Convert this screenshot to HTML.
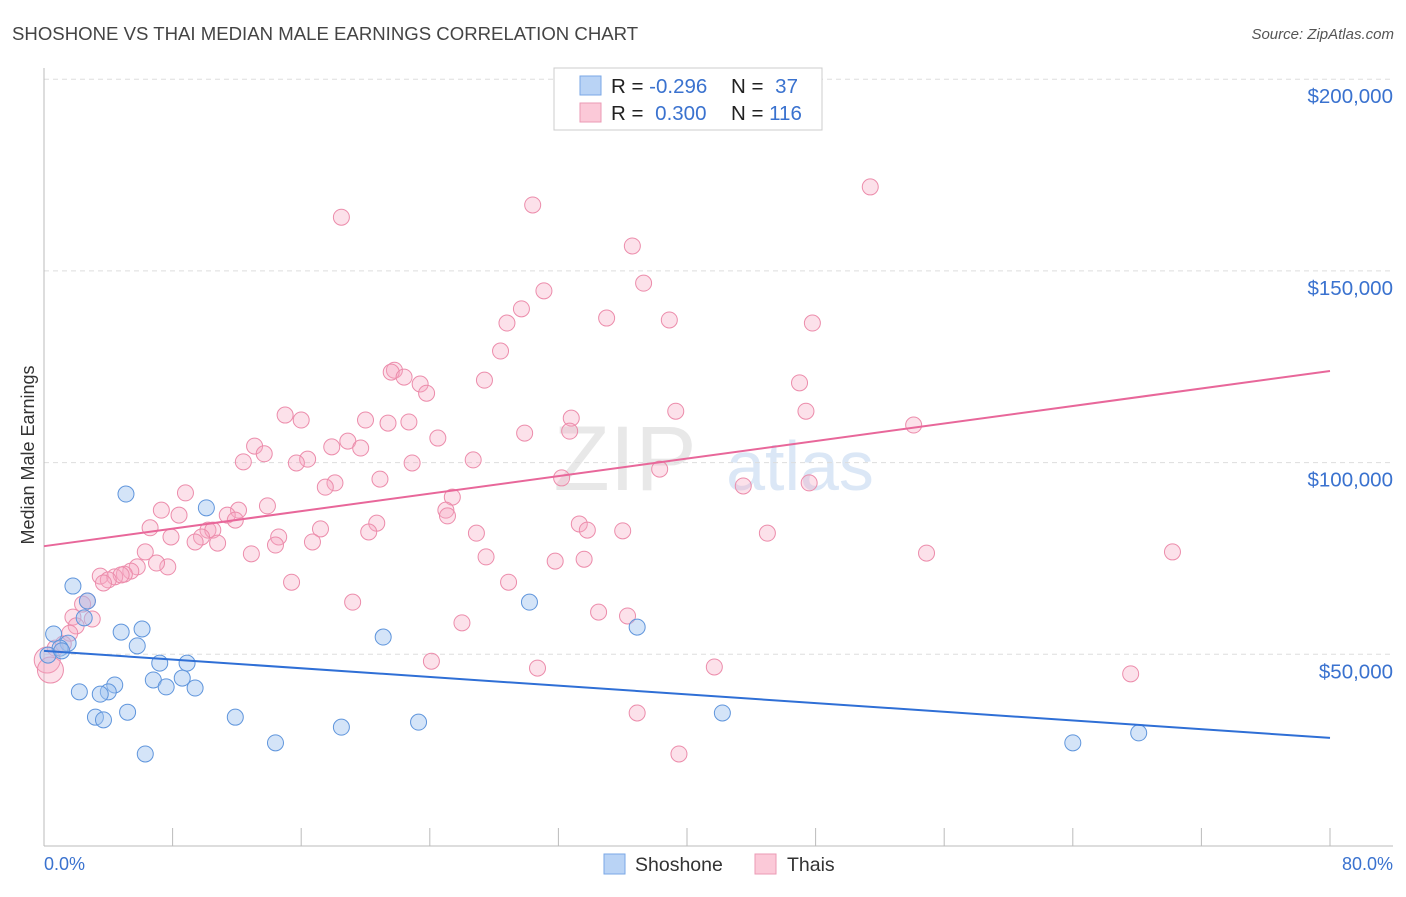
<!DOCTYPE html>
<html><head><meta charset="utf-8"><style>
body{margin:0;background:#fff;font-family:"Liberation Sans",sans-serif}
svg text{font-family:"Liberation Sans",sans-serif}
</style></head><body>
<svg id="chart" width="1406" height="892" xmlns="http://www.w3.org/2000/svg">
<text x="12" y="40" font-size="18.6" fill="#444">SHOSHONE VS THAI MEDIAN MALE EARNINGS CORRELATION CHART</text>
<text x="1394" y="39" font-size="15" fill="#555" font-style="italic" text-anchor="end">Source: ZipAtlas.com</text>
<text x="625" y="490" font-size="92" fill="#e8e8e8" font-family="Liberation Serif" text-anchor="middle">ZIP</text>
<text x="800" y="490" font-size="70" fill="#dbe7f6" text-anchor="middle">atlas</text>
<g id="grid"></g>
<g id="axes"></g>
<g id="marks"></g>
<text transform="translate(34,455) rotate(-90)" font-size="18" fill="#333" text-anchor="middle">Median Male Earnings</text>
<text x="44" y="870" font-size="18" fill="#3a72cf">0.0%</text>
<text x="1393" y="870" font-size="18" fill="#3a72cf" text-anchor="end">80.0%</text>
<g>
<rect x="554" y="68" width="268" height="62" fill="#fff" stroke="#ccc"/>
<rect x="580" y="76" width="21" height="19" fill="#b9d3f5" stroke="#7aa7e6"/>
<rect x="580" y="103" width="21" height="19" fill="#fbc9d8" stroke="#eb9ab4"/>
<text x="611" y="93" font-size="20.5" fill="#222">R = <tspan fill="#3a72cf">-0.296</tspan></text>
<text x="731" y="93" font-size="20.5" fill="#222">N = <tspan fill="#3a72cf" dx="6">37</tspan></text>
<text x="611" y="120" font-size="20.5" fill="#222">R = <tspan fill="#3a72cf" dx="6">0.300</tspan></text>
<text x="731" y="120" font-size="20.5" fill="#222">N = <tspan fill="#3a72cf">116</tspan></text>
</g>
<g>
<rect x="604" y="854" width="21" height="20" fill="#b9d3f5" stroke="#7aa7e6"/>
<text x="635" y="871" font-size="19.5" fill="#333">Shoshone</text>
<rect x="755" y="854" width="21" height="20" fill="#fbc9d8" stroke="#eb9ab4"/>
<text x="787" y="871" font-size="19.5" fill="#333">Thais</text>
</g>
</svg>
<script>
const yTicks=[50000,100000,150000,200000];
const yTickLabels=["$50,000","$100,000","$150,000","$200,000"];
const xTicks=[0,10,20,30,40,50,60,70,80];
const shoshoneX=[5.1,10.1,1.8,2.7,2.5,0.6,4.8,6.1,5.8,1.5,1.0,0.25,1.1,7.2,8.9,6.8,8.6,7.6,9.4,4.4,4.0,3.5,2.2,5.2,3.2,3.7,11.9,14.4,6.3,18.5,23.3,21.1,30.2,36.9,42.2,64.0,68.1];
const shoshoneY=[91.8,88.2,67.8,63.9,59.5,55.3,55.8,56.6,52.2,52.9,51.6,49.8,50.9,47.7,47.7,43.3,43.8,41.5,41.2,42.0,40.2,39.6,40.2,34.9,33.6,32.9,33.6,26.9,24.0,31.0,32.3,54.5,63.6,57.1,34.7,26.9,29.5];
const thaiX=[51.4,30.4,18.5,36.6,37.3,31.1,29.7,28.8,35.0,38.9,47.8,28.4,21.8,21.6,22.4,23.4,23.8,27.4,47.0,15.0,16.0,20.0,21.4,22.7,32.8,39.3,47.4,54.1,32.7,29.9,24.5,18.9,13.1,17.9,19.7,13.7,12.4,16.4,15.7,22.9,26.7,38.3,20.9,32.2,18.1,17.5,43.5,47.6,8.8,25.4,7.3,13.9,12.1,25.0,8.4,11.4,11.9,25.1,20.7,33.3,6.6,17.2,10.2,10.5,33.8,36.0,20.2,26.9,45.0,7.9,9.8,14.6,9.4,10.8,16.7,14.4,6.3,12.9,54.9,70.2,27.5,31.8,33.6,5.8,7.7,7.0,5.4,5.0,3.5,4.4,4.8,4.0,3.7,15.4,28.9,2.7,2.4,19.2,34.5,36.3,1.8,3.0,2.0,1.6,26.0,1.2,0.7,0.2,0.4,24.1,30.7,41.7,67.6,36.9,39.5];
const thaiY=[171.9,167.2,164.0,156.5,146.8,144.8,140.1,136.4,137.7,137.2,136.4,129.1,124.1,123.6,122.3,120.5,118.1,121.5,120.8,112.4,111.1,111.1,110.3,110.6,111.6,113.4,113.4,109.8,108.2,107.7,106.4,105.6,104.3,104.1,103.8,102.3,100.2,100.9,99.9,99.9,100.7,98.3,95.7,96.0,94.7,93.6,93.9,94.7,92.1,91.0,87.6,88.7,87.6,87.6,86.3,86.3,85.0,86.1,84.2,84.0,83.0,82.7,82.4,82.4,82.4,82.2,81.9,81.6,81.6,80.6,80.6,80.6,79.3,79.0,79.3,78.5,76.7,76.2,76.4,76.7,75.4,74.3,74.8,72.8,72.8,73.8,71.7,70.9,70.4,70.2,70.7,69.4,68.6,68.8,68.8,63.9,63.1,63.6,61.0,60.0,59.7,59.2,57.4,55.5,58.2,52.7,51.6,48.5,45.9,48.2,46.4,46.7,44.9,34.7,24.0];
const shoshoneTrend=[50.9,28.2];
const thaiTrend=[78.2,123.9];
const trendX=[0,80];
const NS="http://www.w3.org/2000/svg";
const X0=44,X1=1330,Y0=846,PXK=191.7/50;
const sx=v=>X0+(X1-X0)*v/80;
const sy=v=>Y0-v*PXK;
function mk(t,a,p){const e=document.createElementNS(NS,t);for(const k in a)e.setAttribute(k,a[k]);p.appendChild(e);return e;}
const grid=document.getElementById('grid'),axes=document.getElementById('axes'),marks=document.getElementById('marks');
yTicks.forEach((v,i)=>{
 const l=mk('line',{x1:44,x2:1393,y1:sy(v/1000),y2:sy(v/1000),stroke:'#ddd','stroke-dasharray':'5,4'},grid);
 
 
 const t=mk('text',{x:1393,y:sy(v/1000)+24,'font-size':20.5,fill:'#3a72cf','text-anchor':'end'},grid);
 t.textContent=yTickLabels[i];
 
 
});
const ya=mk('line',{x1:44,x2:44,y1:68,y2:846,stroke:'#bbb'},axes);


const xa=mk('line',{x1:44,x2:1393,y1:846,y2:846,stroke:'#bbb'},axes);


for(let v=0;v<=80;v+=8){const t=mk('line',{x1:sx(v),x2:sx(v),y1:828,y2:846,stroke:'#bbb'},axes);
 
 }
thaiX.forEach((x,i)=>{const c=mk('circle',{cx:sx(x),cy:sy(thaiY[i]),r:x<0.5?13:8,fill:'rgba(245,170,195,0.35)',stroke:'#ec8cab','stroke-width':1},marks);
 
 });
shoshoneX.forEach((x,i)=>{const c=mk('circle',{cx:sx(x),cy:sy(shoshoneY[i]),r:8,fill:'rgba(160,195,240,0.45)',stroke:'#5f95dc','stroke-width':1},marks);
 
 });
const tb=mk('line',{x1:sx(trendX[0]),y1:sy(shoshoneTrend[0]),x2:sx(trendX[1]),y2:sy(shoshoneTrend[1]),stroke:'#2f6fd6','stroke-width':2},marks);


const tp=mk('line',{x1:sx(trendX[0]),y1:sy(thaiTrend[0]),x2:sx(trendX[1]),y2:sy(thaiTrend[1]),stroke:'#e8679a','stroke-width':2},marks);


</script>
</body></html>
